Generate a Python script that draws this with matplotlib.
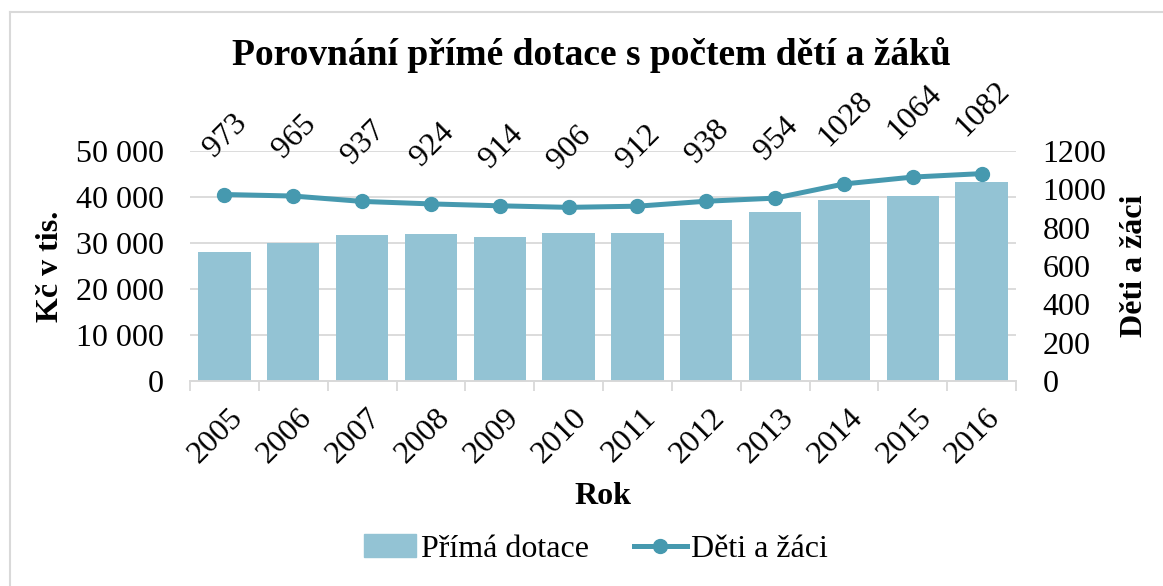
import matplotlib.pyplot as plt
import numpy as np
from matplotlib.lines import Line2D

plt.rcParams['font.family'] = ['Liberation Serif', 'DejaVu Serif']

years = ['2005', '2006', '2007', '2008', '2009', '2010',
         '2011', '2012', '2013', '2014', '2015', '2016']
dotace = [28000, 30050, 31800, 31900, 31400, 32100,
          32100, 34950, 36700, 39300, 40200, 43300]
deti = [973, 965, 937, 924, 914, 906, 912, 938, 954, 1028, 1064, 1082]

bar_color = '#93C3D4'
line_color = '#4699AF'
grid_color = '#D9D9D9'
fs = 23

fig = plt.figure(figsize=(11.63, 5.86), dpi=100)
ax = fig.add_axes([190 / 1163, 1 - 381 / 586, 826 / 1163, 230 / 586])
ax2 = ax.twinx()

x = np.arange(len(years))
ax.bar(x, dotace, width=0.76, color=bar_color, zorder=3)
ax.set_xlim(-0.5, len(years) - 0.5)
ax.set_ylim(0, 50000)
ax.set_yticks(np.arange(0, 50001, 10000))
ax.set_yticklabels(['0' if v == 0 else f'{v:,}'.replace(',', ' ')
                    for v in range(0, 50001, 10000)])
ax.grid(axis='y', color=grid_color, linewidth=1.3, zorder=0)
ax.set_axisbelow(True)

ax2.plot(x, deti, color=line_color, linewidth=3.6, marker='o',
         markersize=10, zorder=4)
ax2.set_ylim(0, 1200)
ax2.set_yticks(np.arange(0, 1201, 200))
for xi, v in zip(x, deti):
    ax2.annotate(str(v), (xi, v), xytext=(1, 23), textcoords='offset points',
                 ha='center', va='bottom', rotation=45, fontsize=fs)

for a in (ax, ax2):
    for s in ('top', 'left', 'right'):
        a.spines[s].set_visible(False)
    a.spines['bottom'].set_color(grid_color)
    a.spines['bottom'].set_linewidth(1.3)
    a.tick_params(axis='y', length=0, labelsize=fs)

# category tick marks sit between the bars
ax.set_xticks(np.arange(-0.5, len(years)), minor=False)
ax.set_xticklabels([''] * (len(years) + 1))
ax.tick_params(axis='x', length=7, color=grid_color, width=1.3)
ax.set_xticks(x + 0.06, minor=True)
ax.set_xticklabels(years, minor=True, rotation=45, ha='right',
                   rotation_mode='anchor', fontsize=fs)
ax.tick_params(axis='x', which='minor', length=0, pad=16)
ax.tick_params(axis='y', pad=19)
ax2.tick_params(axis='y', pad=19)

fig.text(50 / 1163, 1 - 266 / 586, 'Kč v tis.', rotation=90, ha='center',
         va='center', fontsize=fs, fontweight='bold')
fig.text(1135 / 1163, 1 - 266 / 586, 'Děti a žáci', rotation=90,
         ha='center', va='center', fontsize=fs, fontweight='bold')
fig.text(603 / 1163, 1 - 497 / 586, 'Rok', ha='center', va='center',
         fontsize=fs, fontweight='bold')
fig.text(591 / 1163, 1 - 55 / 586,
         'Porovnání přímé dotace s počtem dětí a žáků',
         ha='center', va='center', fontsize=27, fontweight='bold')

handles = [plt.Rectangle((0, 0), 1, 1, color=bar_color),
           Line2D([], [], color=line_color, linewidth=3.6, marker='o',
                  markersize=10)]
fig.legend(handles, ['Přímá dotace', 'Děti a žáci'], loc='center',
           bbox_to_anchor=(596 / 1163, 1 - 549 / 586), ncol=2, frameon=False,
           fontsize=fs, handlelength=1.65, columnspacing=1.4,
           handletextpad=0.15, handleheight=0.7)

# chart frame (only left and top edges visible in the crop)
fig.add_artist(Line2D([10 / 1163, 10 / 1163], [0, 1 - 12 / 586],
                      transform=fig.transFigure, color=grid_color, lw=1.5))
fig.add_artist(Line2D([10 / 1163, 1], [1 - 12 / 586, 1 - 12 / 586],
                      transform=fig.transFigure, color=grid_color, lw=1.5))

fig.savefig('out.png', dpi=100)
